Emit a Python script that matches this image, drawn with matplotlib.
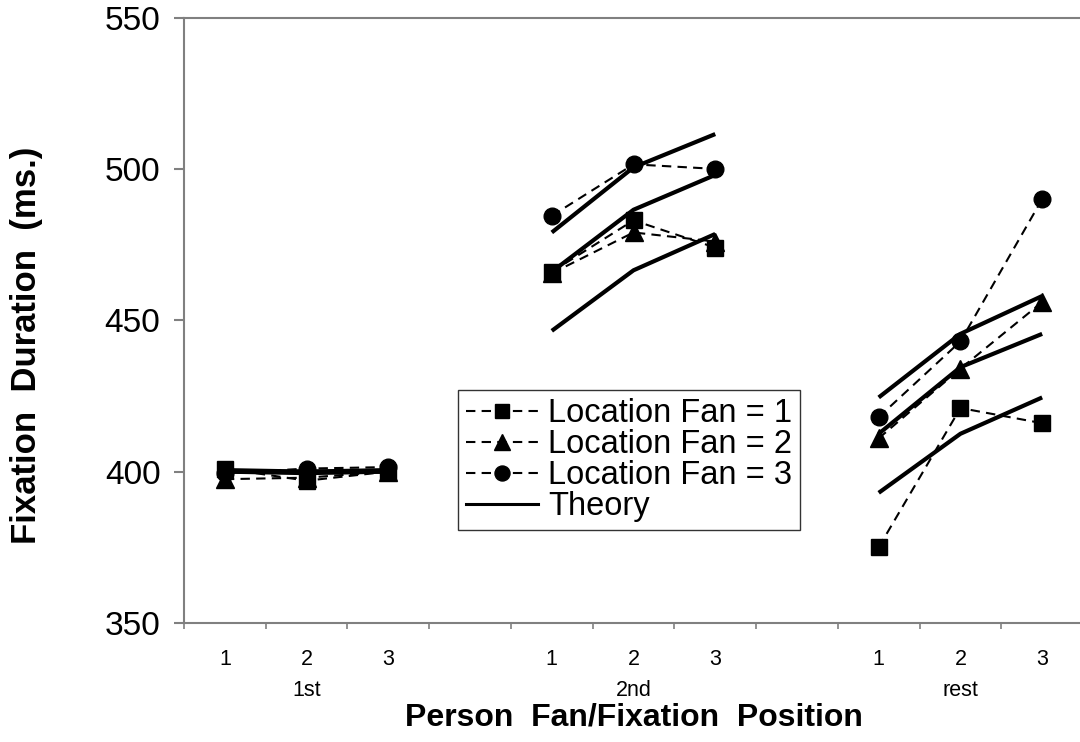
import numpy as np
import matplotlib.pyplot as plt
import matplotlib.transforms as mtransforms

plt.rcParams['font.family'] = ['Liberation Sans', 'DejaVu Sans']

# 11 slots on the x axis: 3 person-fan levels per fixation position, blank slot between groups
positions = np.arange(1, 12)
sub_labels = ['1', '2', '3', '', '1', '2', '3', '', '1', '2', '3']
groups = ['1st', '2nd', 'rest']
group_pos = [2, 6, 10]

nan = np.nan
fan1 = [401, 397, 400, nan, 466, 483, 474, nan, 375, 421, 416]
fan2 = [397.5, 398, 400, nan, 465.5, 479, 476, nan, 411, 434, 456]
fan3 = [399.5, 401, 401.5, nan, 484.5, 501.5, 500, nan, 418, 443, 490]
theory1 = [400, 399.5, 400, nan, 446.5, 466.5, 478.5, nan, 393, 412.5, 424.5]
theory2 = [400, 400, 400, nan, 466, 486.5, 498, nan, 412.5, 434.5, 445.5]
theory3 = [400.5, 400, 400.5, nan, 479, 500.5, 511.5, nan, 424.5, 445.5, 458]

fig = plt.figure(figsize=(10.8, 7.42), dpi=100)
ax = fig.add_axes([0.1704, 0.1604, 0.8324, 0.816])

# theory lines (solid)
for th in [theory1, theory2, theory3]:
    ax.plot(positions, th, color='black', lw=3, solid_capstyle='butt')
th_line, = ax.plot([], [], color='black', lw=2.2)

# observed data (dashed with markers)
dash = (4.5, 3)
l1, = ax.plot(positions, fan1, color='black', lw=1.5, dashes=dash,
              marker='s', markersize=11)
l2, = ax.plot(positions, fan2, color='black', lw=1.5, dashes=dash,
              marker='^', markersize=13)
l3, = ax.plot(positions, fan3, color='black', lw=1.5, dashes=dash,
              marker='o', markersize=12)

ax.set_xlim(0.5, 11.5)
ax.set_ylim(350, 550)
ax.set_yticks([350, 400, 450, 500, 550])
ax.set_xticks(np.arange(0.5, 12, 1))
ax.set_xticklabels([])

spine_col = '#808080'
for s in ax.spines.values():
    s.set_color(spine_col)
    s.set_linewidth(1.5)

ax.tick_params(axis='y', direction='out', length=7, width=1.5, color=spine_col,
               labelsize=24, pad=10)
ax.tick_params(axis='x', direction='out', length=4.5, width=1.2, color=spine_col)

trans = mtransforms.blended_transform_factory(ax.transData, ax.transAxes)
for x, lbl in zip(positions, sub_labels):
    ax.text(x, -0.0595, lbl, transform=trans, ha='center', va='center', fontsize=15.5)
for x, g in zip(group_pos, groups):
    ax.text(x, -0.111, g, transform=trans, ha='center', va='center', fontsize=15.5)

fig.text(0.587, 1 - 718 / 742, 'Person  Fan/Fixation  Position', ha='center',
         va='center', fontsize=23, fontweight='bold')
fig.text(0.025, 1 - 345 / 742, 'Fixation  Duration  (ms.)', ha='center',
         va='center', rotation=90, fontsize=25, fontweight='bold')

leg = ax.legend([l1, l2, l3, th_line],
                ['Location Fan = 1', 'Location Fan = 2', 'Location Fan = 3', 'Theory'],
                loc='upper left', bbox_to_anchor=(458 / 1080, 1 - 390 / 742),
                bbox_transform=fig.transFigure, borderaxespad=0, fontsize=23.5,
                frameon=True, fancybox=False, shadow=False, labelspacing=0.0,
                handlelength=2.2, handletextpad=0.3, borderpad=0.25,
                markerscale=0.9)
leg.get_frame().set_edgecolor('black')
leg.get_frame().set_linewidth(1.0)

fig.savefig('out.png', dpi=100)
